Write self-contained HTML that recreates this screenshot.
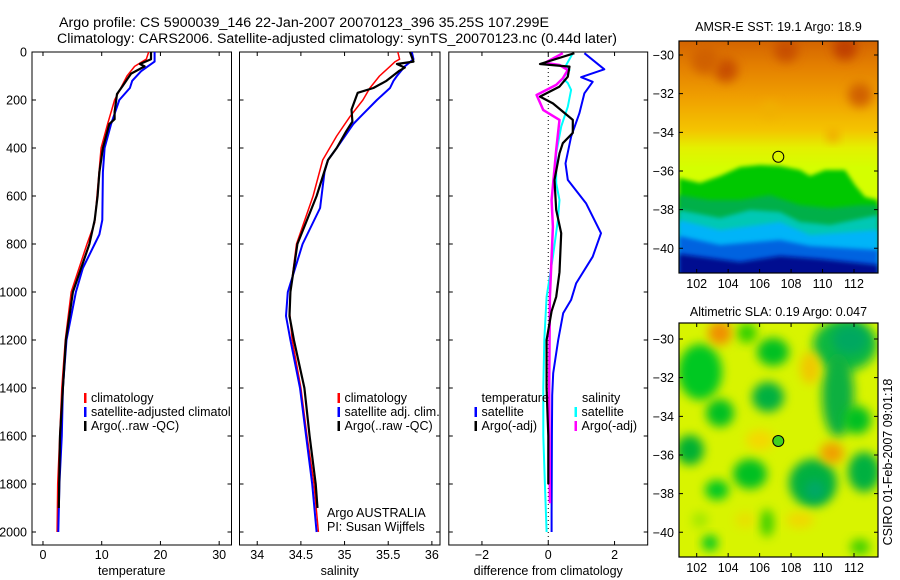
<!DOCTYPE html>
<html><head><meta charset="utf-8"><style>
html,body{margin:0;padding:0;background:#fff;}
svg{display:block;font-family:"Liberation Sans",Arial,sans-serif;}
</style></head><body>
<svg id="fig" width="900" height="580" viewBox="0 0 900 580" xmlns="http://www.w3.org/2000/svg">
<defs>
<linearGradient id="sstTop" x1="0" y1="41" x2="0" y2="168" gradientUnits="userSpaceOnUse">
<stop offset="0" stop-color="#d46400"/><stop offset="0.2" stop-color="#e48000"/><stop offset="0.45" stop-color="#f0a000"/><stop offset="0.7" stop-color="#f4c400"/><stop offset="0.84" stop-color="#e4f000"/><stop offset="1" stop-color="#d4ff00"/>
</linearGradient>
<filter id="blur" x="-50%" y="-50%" width="200%" height="200%"><feGaussianBlur stdDeviation="5"/></filter>
<filter id="blur2" x="-20%" y="-20%" width="140%" height="140%"><feGaussianBlur stdDeviation="2"/></filter>
<clipPath id="c1"><rect x="32" y="52" width="200" height="493"/></clipPath>
<clipPath id="c2"><rect x="240" y="52" width="200" height="493"/></clipPath>
<clipPath id="c3"><rect x="449" y="52" width="199" height="493"/></clipPath>
<clipPath id="cm1"><rect x="679" y="41" width="199" height="232"/></clipPath>
<clipPath id="cm2"><rect x="679" y="323" width="199" height="234"/></clipPath>
</defs>
<text x="59" y="27" font-size="13.5" textLength="490" lengthAdjust="spacingAndGlyphs">Argo profile: CS 5900039_146 22-Jan-2007 20070123_396 35.25S 107.299E</text>
<text x="57" y="43" font-size="13.5" textLength="560" lengthAdjust="spacingAndGlyphs">Climatology: CARS2006. Satellite-adjusted climatology: synTS_20070123.nc (0.44d later)</text>
<g id="panels"></g>
<g id="maps"></g>
</svg>
<script>
// ---------- data ----------
const depthTicks = [0,200,400,600,800,1000,1200,1400,1600,1800,2000];
const tempTicks = [0,10,20,30];
const salTicks = [34,34.5,35,35.5,36];
const diffTicks = [-2,0,2];

const tClimDepth = [0,30,60,100,200,300,400,600,711,800,1000,1200,1400,1800,2000];
const tClimVal   = [18.0,17.6,15.6,14.3,12.2,11.0,9.9,9.2,8.8,7.5,4.8,3.8,3.2,2.5,2.4];
const tSatDepth = [0,40,80,120,150,200,300,400,500,700,760,800,900,1000,1200,1400,1600,1800,2000];
const tSatVal   = [19.0,19.0,16.7,15.2,14.8,13.0,11.6,10.5,10.2,10.1,9.6,8.8,6.8,5.6,4.0,3.4,3.2,2.8,2.6];
const tArgoDepth = [0,30,50,60,90,140,175,250,280,300,400,500,600,700,800,1000,1200,1400,1600,1900];
const tArgoVal   = [18.4,18.4,16.5,17.3,15.0,13.6,12.6,12.2,12.2,11.3,10.2,9.6,9.3,8.8,7.9,5.1,3.9,3.4,2.9,2.7];

const sClimDepth = [0,30,40,60,100,150,200,270,350,450,600,800,1000,1080,1200,1400,1600,1800,2000];
const sClimVal   = [35.61,35.63,35.58,35.52,35.40,35.29,35.21,35.06,34.91,34.75,34.64,34.45,34.38,34.37,34.40,34.50,34.57,34.65,34.70];
const sSatDepth = [0,30,60,100,120,150,200,270,300,400,450,500,650,800,1000,1100,1200,1400,1600,1800,2000];
const sSatVal   = [35.77,35.79,35.69,35.60,35.56,35.52,35.37,35.18,35.10,34.91,34.81,34.77,34.72,34.52,34.35,34.33,34.38,34.49,34.56,34.63,34.68];
const sArgoDepth = [0,40,50,65,80,120,150,170,240,290,330,400,450,600,800,1000,1100,1200,1400,1600,1800,1900];
const sArgoVal   = [35.75,35.79,35.60,35.69,35.62,35.48,35.33,35.15,35.08,35.09,35.02,34.91,34.81,34.68,34.46,34.38,34.37,34.42,34.54,34.60,34.67,34.69];

const dTSatDepth = [5,72,105,124,172,255,353,464,533,630,755,853,964,1033,1088,1200,1338,1430,1600,1920,2000];
const dTSatVal   = [1.09,1.69,0.99,1.34,1.09,0.94,0.69,0.52,0.59,1.14,1.59,1.34,0.84,0.69,0.45,0.30,0.15,0.12,0.11,0.10,0.10];
const dSSatDepth = [5,54,75,110,129,158,228,311,422,547,617,700,853,1020,1200,1400,1600,1800,2000];
const dSSatVal   = [0.74,0.54,0.64,0.44,0.59,0.69,0.59,0.39,0.24,0.24,0.34,0.29,0.14,-0.05,-0.12,-0.15,-0.15,-0.10,-0.05];
const dTArgoDepth = [5,50,61,103,144,186,214,283,337,380,422,533,658,755,917,1020,1080,1200,1400,1600,1800];
const dTArgoVal   = [0.79,-0.25,0.64,0.59,0.34,-0.25,0.14,0.74,0.74,0.44,0.34,0.19,0.24,0.39,0.34,0.24,0.10,-0.05,-0.05,0.0,0.0];
const dSArgoDepth = [5,45,54,75,110,137,179,242,283,408,617,728,1020,1400,1880];
const dSArgoVal   = [0.44,-0.10,0.34,0.59,0.44,0.24,-0.35,-0.15,0.34,0.24,0.10,0.14,0.05,0.03,0.05];

// ---------- helpers ----------
const NS='http://www.w3.org/2000/svg';
function mk(tag, attrs, parent){const e=document.createElementNS(NS,tag);for(const k in attrs)e.setAttribute(k,attrs[k]);parent.appendChild(e);return e;}
const Y = d => 52 + d*0.24;
const panels=document.getElementById('panels');

function panel(name, x0, x1, xmin, xmax, xticks, xlabel, clip, showY){
  const sx = v => x0 + (v-xmin)/(xmax-xmin)*(x1-x0);
  const g=mk('g',{},panels);
  
  
  const frame=mk('rect',{x:x0,y:52,width:x1-x0,height:493,fill:'#fff',stroke:'#000','stroke-width':1},g);
  
  
  depthTicks.forEach(d=>{
    const t=mk('path',{d:`M${x0} ${Y(d)}h4M${x1} ${Y(d)}h-4`,stroke:'#000','stroke-width':1},g);
    
    
    if(showY){
      const l=mk('text',{x:x0-5,y:Y(d)+4.5,'font-size':12.5,'text-anchor':'end'},g);
      l.textContent=d;
      
      
    }
  });
  xticks.forEach(v=>{
    const t=mk('path',{d:`M${sx(v)} 52v4M${sx(v)} 545v-4`,stroke:'#000','stroke-width':1},g);
    
    
    const l=mk('text',{x:sx(v),y:559,'font-size':12.5,'text-anchor':'middle'},g);
    l.textContent=String(v).replace('-','\u2212');
    
    
  });
  const xl=mk('text',{x:(x0+x1)/2,y:575,'font-size':12.5,'text-anchor':'middle'},g);
  xl.textContent=xlabel;
  
  
  const lines=mk('g',{'clip-path':`url(#${clip})`},g);
  return {sx, g, lines};
}
function series(p, name, depths, vals, color, w){
  const d=depths.map((z,i)=>(i?'L':'M')+p.sx(vals[i]).toFixed(1)+' '+Y(z).toFixed(1)).join('');
  const e=mk('path',{d, fill:'none', stroke:color,'stroke-width':w,'stroke-linejoin':'round'},p.lines);
  
  
}
function legend(g, x, y, color, label, name){
  if(color){
    const m=mk('rect',{x:x,y:y-9,width:2.5,height:10,fill:color},g);
    
    
  }
  const t=mk('text',{x:x+(color?7:0),y:y,'font-size':12.5},g);
  t.textContent=label;
  
  
}

// temperature
const p1=panel('temperature',32,231.5,-1.87,32.1,tempTicks,'temperature','c1',true);
series(p1,'temp-climatology-line',tClimDepth,tClimVal,'#ff0000',1.5);
series(p1,'temp-satellite-line',tSatDepth,tSatVal,'#0000ff',2);
series(p1,'temp-argo-line',tArgoDepth,tArgoVal,'#000',2.2);
const lg1=mk('g',{'clip-path':'url(#c1)'},p1.g);
legend(lg1,84,402,'#ff0000','climatology','legend-climatology');
legend(lg1,84,416,'#0000ff','satellite-adjusted climatology','legend-satellite');
legend(lg1,84,430,'#000','Argo(..raw -QC)','legend-argo');

// salinity
const p2=panel('salinity',239.5,440,33.797,36.093,salTicks,'salinity','c2',false);
series(p2,'sal-climatology-line',sClimDepth,sClimVal,'#ff0000',1.5);
series(p2,'sal-satellite-line',sSatDepth,sSatVal,'#0000ff',2);
series(p2,'sal-argo-line',sArgoDepth,sArgoVal,'#000',2.2);
legend(p2.g,337.5,402,'#ff0000','climatology','legend-sal-climatology');
legend(p2.g,337.5,416,'#0000ff','satellite adj. clim.','legend-sal-satellite');
legend(p2.g,337.5,430,'#000','Argo(..raw -QC)','legend-sal-argo');
legend(p2.g,327,517,null,'Argo AUSTRALIA','data-source-label');
legend(p2.g,327,531,null,'PI: Susan Wijffels','pi-label');

// difference
const p3=panel('difference',448.8,647.7,-3,3,diffTicks,'difference from climatology','c3',false);
const zl=mk('line',{x1:p3.sx(0),y1:52,x2:p3.sx(0),y2:545,stroke:'#000','stroke-width':1,'stroke-dasharray':'1 3'},p3.lines);


series(p3,'diff-temp-satellite-line',dTSatDepth,dTSatVal,'#0000ff',2);
series(p3,'diff-sal-satellite-line',dSSatDepth,dSSatVal,'#00ffff',2);
series(p3,'diff-sal-argo-line',dSArgoDepth,dSArgoVal,'#ff00ff',2.5);
series(p3,'diff-temp-argo-line',dTArgoDepth,dTArgoVal,'#000',2.2);
legend(p3.g,481.5,402,null,'temperature','legend-temperature-header');
legend(p3.g,582,402,null,'salinity','legend-salinity-header');
legend(p3.g,474.5,416,'#0000ff','satellite','legend-temp-satellite');
legend(p3.g,474.5,430,'#000','Argo(-adj)','legend-temp-argo');
legend(p3.g,574.5,416,'#00ffff','satellite','legend-sal-satellite');
legend(p3.g,574.5,430,'#ff00ff','Argo(-adj)','legend-sal-argo');

// ---------- maps ----------
const maps=document.getElementById('maps');
const lonTicks=[102,104,106,108,110,112];
const latTicks=[-30,-32,-34,-36,-38,-40];
function mapAxes(name, top, bottom, lat30y, lat40y, title, titleY){
  const lx = lon => 696.7 + (lon-102)*15.73;
  const ly = lat => lat30y + (-30-lat)/10*(lat40y-lat30y);
  const g=mk('g',{},maps);
  
  
  const f=mk('rect',{x:679,y:top,width:199,height:bottom-top,fill:'none',stroke:'#000','stroke-width':1.2},g);
  
  
  lonTicks.forEach(v=>{
    const t=mk('path',{d:`M${lx(v)} ${top}v4M${lx(v)} ${bottom}v-4`,stroke:'#000'},g);
    
    
    const l=mk('text',{x:lx(v),y:bottom+15,'font-size':12.5,'text-anchor':'middle'},g);
    l.textContent=v;
    
    
  });
  latTicks.forEach(v=>{
    const t=mk('path',{d:`M679 ${ly(v)}h4M878 ${ly(v)}h-4`,stroke:'#000'},g);
    
    
    const l=mk('text',{x:674,y:ly(v)+4.5,'font-size':12.5,'text-anchor':'end'},g);
    l.textContent=String(v).replace('-','\u2212');
    
    
  });
  const t=mk('text',{x:778.5,y:titleY,'font-size':12.5,'text-anchor':'middle'},g);
  t.textContent=title;
  
  
  return {lx,ly,g};
}
// SST map image
const sst=mk('g',{'clip-path':'url(#cm1)'},maps);


mk('rect',{x:679,y:41,width:199,height:232,fill:'url(#sstTop)'},sst);
const bandTops=[
 ['#00c800','M679 178 L700 183 L720 176 L740 167 L760 165 L780 166 L800 170 L810 176 L825 170 L845 170 L855 185 L865 197 L878 200'],
 ['#00b048','M679 195 L710 200 L740 200 L770 195 L800 205 L830 208 L860 205 L878 205'],
 ['#00c8b4','M679 210 L720 218 L750 210 L780 212 L800 222 L830 225 L878 215'],
 ['#00b4f8','M679 220 L720 230 L780 222 L810 235 L878 230'],
 ['#0064e0','M679 236 L720 245 L780 240 L810 246 L878 250'],
 ['#000c90','M679 254 L740 262 L780 256 L820 259 L878 265']
];
bandTops.forEach(([c,d])=>{
  const p=mk('path',{d:d+' L878 280 L679 280 Z',fill:c,filter:'url(#blur2)'},sst);
  
  
});
[[726,70,12,'#c85000'],[786,50,12,'#c85000'],[845,48,12,'#c04000'],[860,95,12,'#d06000'],[705,60,14,'#d06000'],[770,110,8,'#f0b000'],[833,136,6,'#f0a000']].forEach(([x,y,r,c])=>{
  const e=mk('circle',{cx:x,cy:y,r:r,fill:c,filter:'url(#blur)'},sst);
  
  
});
const m1=mapAxes('sst-map',41,273,55,248.3,'AMSR-E SST: 19.1  Argo: 18.9',31);
const c1=mk('circle',{cx:778.3,cy:156.7,r:5.5,fill:'none',stroke:'#000','stroke-width':1},maps);



// SLA map image
const sla=mk('g',{'clip-path':'url(#cm2)'},maps);


mk('rect',{x:679,y:323,width:199,height:234,fill:'#d8f400'},sla);
const blobs=[[845,345,32,26,'#10b840'],[838,395,16,42,'#10b040'],[850,340,18,15,'#00a860'],[773,352,16,14,'#00c020'],[768,397,16,15,'#00b040'],[700,372,22,28,'#00c820'],[720,413,14,14,'#00c020'],[690,450,14,15,'#00b030'],[750,474,17,15,'#00c020'],[813,483,24,24,'#00b040'],[815,490,10,10,'#00a868'],[864,472,16,20,'#00b040'],[857,420,14,14,'#00c020'],[717,490,12,10,'#00c820'],[710,543,8,8,'#00c820'],[767,523,7,14,'#40d000'],[860,547,10,8,'#40d000'],[747,333,10,10,'#30d000'],[700,520,8,8,'#a0e800'],
 [720,333,12,12,'#f09000'],[832,453,12,11,'#f0a000'],[810,368,10,16,'#f0c800'],[760,440,14,10,'#f4d800'],[800,520,14,8,'#f0d800'],[745,520,10,8,'#e8e000']];
blobs.forEach(([x,y,rx,ry,c])=>{
  const e=mk('ellipse',{cx:x,cy:y,rx:rx,ry:ry,fill:c,filter:'url(#blur)'},sla);
  
  
});
const m2=mapAxes('sla-map',323,557,339,532.3,'Altimetric SLA: 0.19  Argo: 0.047',316);
const c2=mk('circle',{cx:778.3,cy:441,r:5.5,fill:'#40d020',stroke:'#000','stroke-width':1},maps);


const cs=mk('text',{x:0,y:0,'font-size':12.5,'text-anchor':'middle',transform:'translate(892 462) rotate(-90)'},maps);
cs.textContent='CSIRO 01-Feb-2007 09:01:18';


</script>
</body></html>
